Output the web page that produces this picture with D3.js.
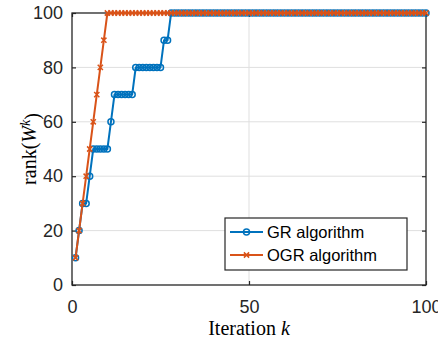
<!DOCTYPE html>
<html><head><meta charset="utf-8">
<script src="https://cdn.jsdelivr.net/npm/d3@7"></script>
<style>
html,body{margin:0;padding:0;background:#fff;}
svg{display:block;}
</style></head>
<body>
<svg id="chart" width="438" height="341"></svg>
<script>
const iterations = [1,2,3,4,5,6,7,8,9,10,11,12,13,14,15,16,17,18,19,20,21,22,23,24,25,26,27,28,29,30,31,32,33,34,35,36,37,38,39,40,41,42,43,44,45,46,47,48,49,50,51,52,53,54,55,56,57,58,59,60,61,62,63,64,65,66,67,68,69,70,71,72,73,74,75,76,77,78,79,80,81,82,83,84,85,86,87,88,89,90,91,92,93,94,95,96,97,98,99,100];
const grRank = [10,20,30,30,40,50,50,50,50,50,60,70,70,70,70,70,70,80,80,80,80,80,80,80,80,90,90,100,100,100,
  100,100,100,100,100,100,100,100,100,100,100,100,100,100,100,100,100,100,100,100,
  100,100,100,100,100,100,100,100,100,100,100,100,100,100,100,100,100,100,100,100,
  100,100,100,100,100,100,100,100,100,100,100,100,100,100,100,100,100,100,100,100,
  100,100,100,100,100,100,100,100,100,100];
const ogrRank = [10,20,30,40,50,60,70,80,90,100,100,100,100,100,100,100,100,100,100,100,
  100,100,100,100,100,100,100,100,100,100,100,100,100,100,100,100,100,100,100,100,
  100,100,100,100,100,100,100,100,100,100,100,100,100,100,100,100,100,100,100,100,
  100,100,100,100,100,100,100,100,100,100,100,100,100,100,100,100,100,100,100,100,
  100,100,100,100,100,100,100,100,100,100,100,100,100,100,100,100,100,100,100,100];
const xTicks = [0,50,100];
const yTicks = [0,20,40,60,80,100];
const seriesNames = ["GR algorithm","OGR algorithm"];

const svg = d3.select("#chart");
const L = 72, R = 426, T = 13, B = 285;
const x = d3.scaleLinear().domain([0,100]).range([L,R]);
const y = d3.scaleLinear().domain([0,100]).range([B,T]);
const axisColor = "#262626";
const blue = "#0072BD", orange = "#D95319";
const tickFont = "'Liberation Sans', Arial, Helvetica, sans-serif";

// grid
const grid = svg.append("g");
grid.selectAll(".gx").data(xTicks.filter(d=>d>0&&d<100)).enter().append("line")
  .attr("x1",d=>x(d)).attr("x2",d=>x(d)).attr("y1",T).attr("y2",B)
  .attr("stroke","#dfdfdf").attr("stroke-width",1);
grid.selectAll(".gy").data(yTicks.filter(d=>d>0&&d<100)).enter().append("line")
  .attr("y1",d=>y(d)).attr("y2",d=>y(d)).attr("x1",L).attr("x2",R)
  .attr("stroke","#dfdfdf").attr("stroke-width",1);

// axes with inward ticks
const tl = 4;
const xAxisB = d3.axisBottom(x).tickValues(xTicks).tickSizeInner(-tl).tickSizeOuter(0).tickPadding(15);
const xAxisT = d3.axisTop(x).tickValues(xTicks).tickSizeInner(-tl).tickSizeOuter(0).tickFormat("");
const yAxisL = d3.axisLeft(y).tickValues(yTicks).tickSizeInner(-tl).tickSizeOuter(0).tickPadding(9);
const yAxisR = d3.axisRight(y).tickValues(yTicks).tickSizeInner(-tl).tickSizeOuter(0).tickFormat("");

function style(g){
  g.select(".domain").remove();
  g.selectAll(".tick line").attr("stroke",axisColor).attr("stroke-width",1.2);
  g.selectAll(".tick text").attr("fill",axisColor).style("font-family",tickFont).style("font-size","18px");
}
svg.append("g").attr("transform",`translate(0,${B})`).call(xAxisB).call(style);
svg.append("g").attr("transform",`translate(0,${T})`).call(xAxisT).call(style);
svg.append("g").attr("transform",`translate(${L},0)`).call(yAxisL).call(style);
svg.append("g").attr("transform",`translate(${R},0)`).call(yAxisR).call(style);

// box
svg.append("rect").attr("x",L).attr("y",T).attr("width",R-L).attr("height",B-T)
  .attr("fill","none").attr("stroke",axisColor).attr("stroke-width",1.3);

// series
const grData = iterations.map((k,i)=>({k, v: grRank[i]}));
const ogrData = iterations.map((k,i)=>({k, v: ogrRank[i]}));
const line = d3.line().x(d=>x(d.k)).y(d=>y(d.v));

svg.append("path").datum(grData).attr("d",line).attr("fill","none")
  .attr("stroke",blue).attr("stroke-width",2).attr("stroke-linejoin","round");
svg.append("g").selectAll("circle").data(grData).enter().append("circle")
  .attr("cx",d=>x(d.k)).attr("cy",d=>y(d.v)).attr("r",3)
  .attr("fill","none").attr("stroke",blue).attr("stroke-width",1.5);

svg.append("path").datum(ogrData).attr("d",line).attr("fill","none")
  .attr("stroke",orange).attr("stroke-width",2).attr("stroke-linejoin","round");
const xm = 2.6;
function cross(g, cx, cy, col){
  g.append("path").attr("d",`M${cx-xm},${cy-xm}L${cx+xm},${cy+xm}M${cx-xm},${cy+xm}L${cx+xm},${cy-xm}`)
    .attr("stroke",col).attr("stroke-width",1.5).attr("fill","none");
}
const og = svg.append("g");
ogrData.forEach(d=>cross(og, x(d.k), y(d.v), orange));

// legend
const lg = svg.append("g");
lg.append("rect").attr("x",225).attr("y",218).attr("width",182).attr("height",52)
  .attr("fill","#fff").attr("stroke",axisColor).attr("stroke-width",1.2);
const rows = [{name:seriesNames[0], col:blue, m:"o", yy:232},{name:seriesNames[1], col:orange, m:"x", yy:255}];
rows.forEach(r=>{
  lg.append("line").attr("x1",230).attr("x2",263).attr("y1",r.yy).attr("y2",r.yy)
    .attr("stroke",r.col).attr("stroke-width",2);
  if(r.m==="o"){
    lg.append("circle").attr("cx",246.5).attr("cy",r.yy).attr("r",3)
      .attr("fill","none").attr("stroke",r.col).attr("stroke-width",1.5);
  } else {
    cross(lg, 246.5, r.yy, r.col);
  }
  lg.append("text").attr("x",267).attr("y",r.yy).attr("dy","0.36em")
    .attr("fill","#000").style("font-family",tickFont).style("font-size","16.5px").text(r.name);
});

// axis labels
const serif = "'Liberation Serif', 'Times New Roman', serif";
const xl = svg.append("text").attr("x",(L+R)/2).attr("y",335).attr("text-anchor","middle")
  .style("font-family",serif).style("font-size","20px").attr("fill","#000");
xl.append("tspan").text("Iteration ");
xl.append("tspan").attr("font-style","italic").text("k");

const yl = svg.append("text").attr("transform",`translate(36,${(T+B)/2}) rotate(-90)`)
  .attr("text-anchor","middle").style("font-family",serif).style("font-size","20px").attr("fill","#000");
yl.append("tspan").text("rank(");
yl.append("tspan").attr("font-style","italic").text("W");
yl.append("tspan").attr("font-style","italic").attr("dy","-0.45em").style("font-size","14px").text("k");
yl.append("tspan").attr("dy","0.45em").text(")");
</script>
</body></html>
